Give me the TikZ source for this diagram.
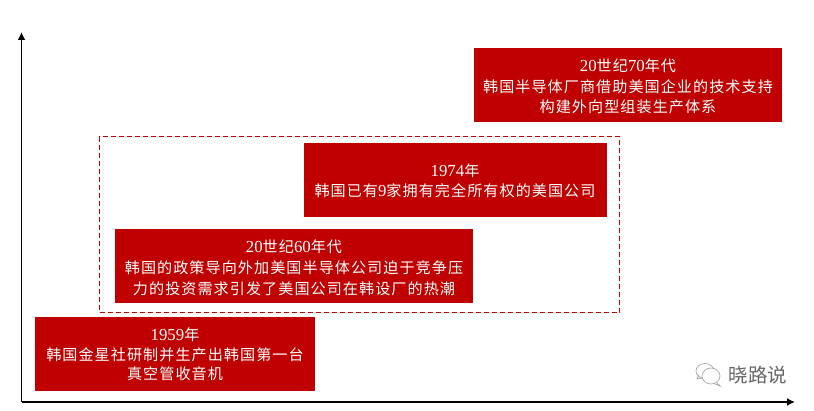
\documentclass[tikz,border=0pt]{standalone}
\usepackage{fontspec}
\setmainfont{Liberation Serif}
\newfontfamily\cjk[LetterSpace=7]{Noto Sans CJK SC}
\newfontfamily\wm{Noto Sans CJK SC}
\usetikzlibrary{arrows.meta}
\definecolor{boxred}{RGB}{192,0,0}
\newcommand{\tline}[3]{\node[tx] (#1) at (#2) {#3};}
\newcommand{\dg}[1]{{\rmfamily\fontsize{16.8}{16}\selectfont #1}}
\tikzset{
  x=1pt,y=-1pt,
  panel/.style={fill=boxred,draw=none,anchor=north west,inner sep=0},
  tx/.style={text=white,font=\cjk\fontsize{15.1}{16}\selectfont,inner sep=0,anchor=center},
  axis/.style={draw=black,line width=1.8pt,-{Latex[length=8pt,width=8pt]}},
  frame/.style={draw=boxred,line width=1.3pt,dash pattern=on 5pt off 3pt},
  wechat/.style={draw=gray!70,line width=.7pt,fill=white}
}
\begin{document}
\begin{tikzpicture}
\useasboundingbox (0,0) rectangle (814,411);
\coordinate (origin) at (21.5,402);
\coordinate (ytip) at (21.5,32);
\coordinate (xtip) at (795,402);
\draw[axis] (origin) -- (ytip);
\draw[axis] (origin) -- (xtip);
\node[frame,anchor=north west,minimum width=520pt,minimum height=176pt,inner sep=0] (group) at (99,136) {};
\node[panel,minimum width=308pt,minimum height=74pt] (boxA) at (474,48) {};
\node[panel,minimum width=303pt,minimum height=74pt] (boxB) at (304,143) {};
\node[panel,minimum width=358pt,minimum height=74pt] (boxC) at (115,229) {};
\node[panel,minimum width=280pt,minimum height=74pt] (boxD) at (35,317) {};
\tline{a1}{628,66}{\dg{20}世纪\dg{70}年代}
\tline{a2}{628,87}{韩国半导体厂商借助美国企业的技术支持}
\tline{a3}{628,107}{构建外向型组装生产体系}
\tline{b1}{455,171}{\dg{1974}年}
\tline{b2}{455,191}{韩国已有\dg{9}家拥有完全所有权的美国公司}
\tline{c1}{294,247}{\dg{20}世纪\dg{60}年代}
\tline{c2}{294,268}{韩国的政策导向外加美国半导体公司迫于竞争压}
\tline{c3}{294,289}{力的投资需求引发了美国公司在韩设厂的热潮}
\tline{d1}{175,335}{\dg{1959}年}
\tline{d2}{175,355}{韩国金星社研制并生产出韩国第一台}
\tline{d3}{175,374}{真空管收音机}
\draw[wechat] (705,371) ellipse (9pt and 7.5pt);
\draw[wechat] (697,379) -- (699,375) (703,378) -- (697,379);
\draw[wechat] (711,376) ellipse (9pt and 8pt);
\draw[wechat] (717,383) -- (720,386) -- (714,383.5);
\node[font=\wm\fontsize{19.5}{20}\selectfont,text=gray!80!black,inner sep=0] (mark) at (758,375) {晓路说};
\end{tikzpicture}
\end{document}
